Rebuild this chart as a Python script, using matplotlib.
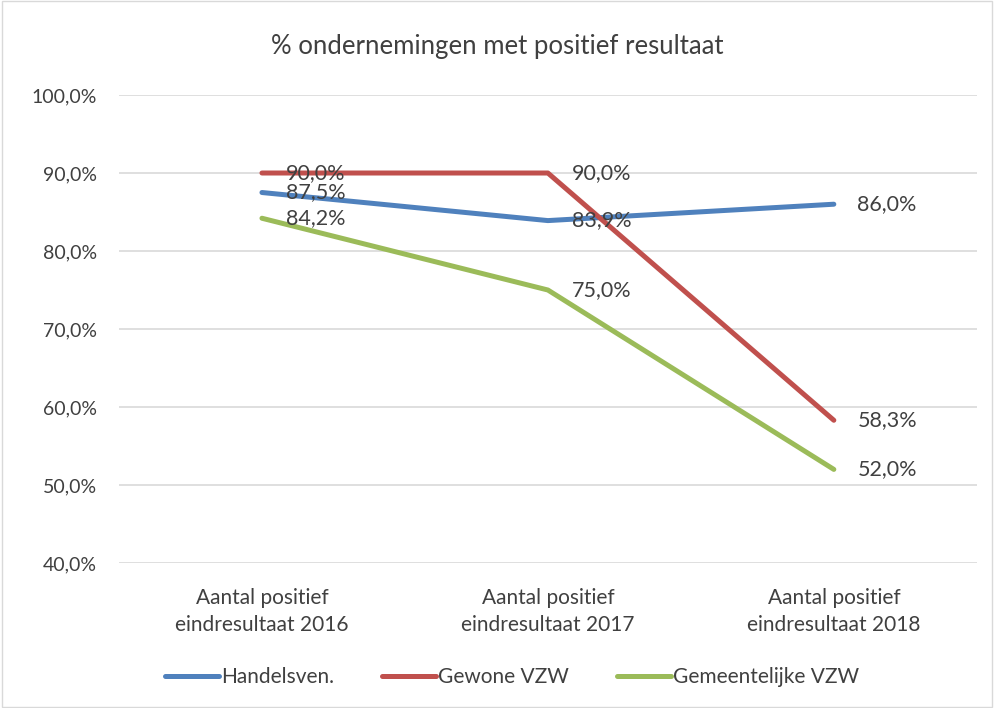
import matplotlib.pyplot as plt
from matplotlib.patches import Rectangle
from matplotlib.ticker import FuncFormatter

categories = ['Aantal positief\neindresultaat 2016',
              'Aantal positief\neindresultaat 2017',
              'Aantal positief\neindresultaat 2018']
handelsven = [87.5, 83.9, 86.0]
gewone_vzw = [90.0, 90.0, 58.3]
gemeente_vzw = [84.2, 75.0, 52.0]
series_names = ['Handelsven.', 'Gewone VZW', 'Gemeentelijke VZW']
colors = ['#4F81BD', '#C0504D', '#9BBB59']

plt.rcParams['font.family'] = ['Lato', 'DejaVu Sans']
txt = '#404040'

fig = plt.figure(figsize=(9.94, 7.08), dpi=100)
fig.patches.append(Rectangle((0.002, 0.002), 0.996, 0.996, transform=fig.transFigure,
                             fill=False, edgecolor='#D9D9D9', linewidth=1))
ax = fig.add_axes([0.1197, 0.2048, 0.863, 0.661])

x = list(range(len(categories)))
for vals, name, c in zip([handelsven, gewone_vzw, gemeente_vzw], series_names, colors):
    ax.plot(x, vals, color=c, linewidth=3.6, label=name, solid_capstyle='round')
    for xi, v in zip(x, vals):
        ax.annotate(('%.1f%%' % v).replace('.', ','), (xi, v), xytext=(17, 0),
                    textcoords='offset points', va='center', ha='left',
                    fontsize=15.5, color=txt)

ax.set_xlim(-0.5, 2.5)
ax.set_ylim(40, 100)
ax.set_yticks(range(40, 101, 10))
ax.yaxis.set_major_formatter(FuncFormatter(lambda v, p: ('%.1f%%' % v).replace('.', ',')))
ax.set_xticks(x)
ax.set_xticklabels(categories, linespacing=1.45)
ax.grid(axis='y', color='#D9D9D9', linewidth=1.2)
ax.set_axisbelow(True)
for s in ax.spines.values():
    s.set_visible(False)
ax.tick_params(length=0, labelsize=14, colors=txt)
ax.tick_params(axis='y', pad=16)
ax.tick_params(axis='x', pad=18, labelsize=15)

fig.text(0.5, 0.934, '% ondernemingen met positief resultaat', ha='center', va='center',
         fontsize=18.5, color=txt)
fig.legend(loc='center', bbox_to_anchor=(0.515, 0.044), ncol=3, frameon=False,
           fontsize=15, handlelength=2.6, handletextpad=0.1, columnspacing=2.3,
           labelcolor=txt)

fig.savefig('out.png', dpi=100)
